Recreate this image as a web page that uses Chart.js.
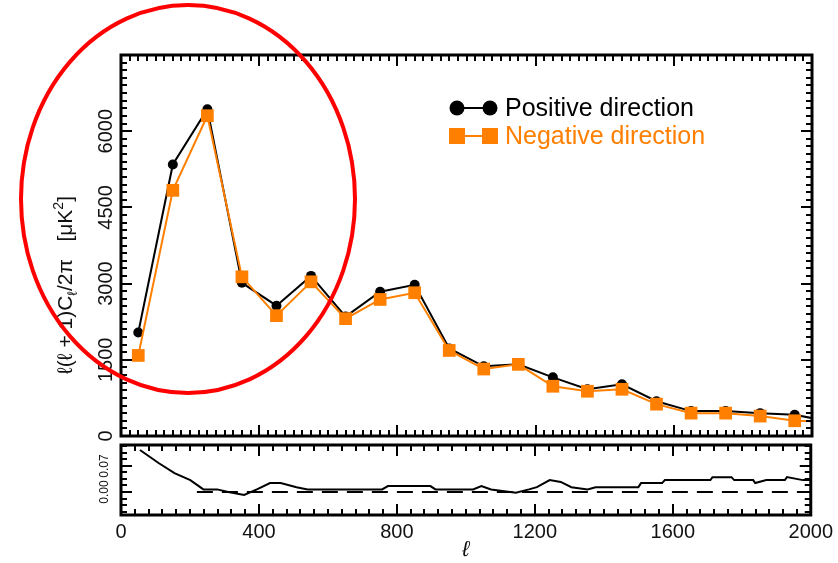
<!DOCTYPE html>
<html><head><meta charset="utf-8">
<script src="https://cdn.jsdelivr.net/npm/chart.js@4.4.1/dist/chart.umd.min.js"></script>
<style>
html,body{margin:0;padding:0;background:#fff;}
#wrap{position:relative;width:838px;height:563px;overflow:hidden;background:#fff;}
.box{position:absolute;left:0;}
</style></head><body>
<div id="wrap">
  <div class="box" style="top:0;width:838px;height:445px"><canvas id="c1" width="838" height="445"></canvas></div>
  <div class="box" style="top:440px;width:838px;height:123px"><canvas id="c2" width="838" height="123"></canvas></div>
</div>
<script>
// ---------- data ----------
const multipoleBins = [50,150,250,350,450,550,650,750,850,950,1050,1150,1250,1350,1450,1550,1650,1750,1850,1950,2050];
const positiveDirection = [2036,5345,6432,3015,2565,3152,2350,2839,2976,1723,1371,1410,1155,920,1018,685,490,490,450,417,287];
const negativeDirection = [1586,4836,6305,3133,2369,3035,2310,2688,2820,1684,1318,1410,979,881,920,627,450,450,392,300,276];

const ratioEll = [55,109,155,201,239,279,311,357,394,432,463,509,541,757,774,897,912,1021,1045,1073,1145,1183,1206,1243,1275,1306,1353,1376,1500,1508,1569,1577,1709,1715,1770,1778,1833,1839,1871,1925,1931,1977,2000];
const ratioValues = [0.113,0.078,0.051,0.032,0.007,0.007,0.000,-0.008,0.007,0.024,0.024,0.013,0.007,0.007,0.016,0.016,0.007,0.007,0.016,0.007,-0.002,0.007,0.013,0.032,0.027,0.013,0.007,0.013,0.013,0.024,0.024,0.032,0.032,0.040,0.040,0.032,0.032,0.024,0.032,0.032,0.040,0.032,0.032];
const zeroLineEll = [220, 2000];
const zeroLineValues = [0, 0];

const xTickLabels = [0, 400, 800, 1200, 1600, 2000];
const yTickLabelsMain = [0, 1500, 3000, 4500, 6000];
const yTickLabelsLower = [0, 0.07];

const FONT = '"Liberation Sans", Arial, Helvetica, sans-serif';
const ORANGE = '#ff8000';

function pts(xs, ys){ return xs.map((x,i)=>({x:x, y:ys[i]})); }

function drawRich(ctx, segs, cx, cy, rot){
  ctx.save();
  ctx.translate(cx, cy);
  ctx.rotate(rot);
  ctx.textAlign = 'left';
  ctx.textBaseline = 'alphabetic';
  let total = 0;
  const ws = segs.map(s => { ctx.font = s.font; const w = ctx.measureText(s.t).width; total += w; return w; });
  let x = -total/2;
  segs.forEach((s,i)=>{ ctx.font = s.font; ctx.fillStyle = '#111'; ctx.fillText(s.t, x, s.dy); x += ws[i]; });
  ctx.restore();
}

function framePlugin(cfg){
  return {
    id: 'frame_' + cfg.name,
    afterDraw(chart){
      const ctx = chart.ctx, a = chart.chartArea, xs = chart.scales.x, ys = chart.scales.y;
      ctx.save();
      ctx.strokeStyle = '#000';
      ctx.lineWidth = 2;
      ctx.beginPath();
      const nx = Math.round((xs.max - xs.min) / cfg.xMinor);
      for (let i = 0; i <= nx; i++){
        const v = xs.min + i * cfg.xMinor;
        const major = Math.abs(v / cfg.xMajor - Math.round(v / cfg.xMajor)) < 1e-6;
        const L = major ? cfg.majorLen : cfg.minorLen;
        const px = Math.round(xs.getPixelForValue(v));
        ctx.moveTo(px, a.bottom); ctx.lineTo(px, a.bottom - L);
        ctx.moveTo(px, a.top); ctx.lineTo(px, a.top + L);
      }
      const y0 = Math.ceil((ys.min - 1e-9) / cfg.yMinor), y1 = Math.floor((ys.max + 1e-9) / cfg.yMinor);
      for (let k = y0; k <= y1; k++){
        const v = k * cfg.yMinor;
        const major = Math.abs(v / cfg.yMajor - Math.round(v / cfg.yMajor)) < 1e-6;
        const L = major ? cfg.majorLen : cfg.minorLen;
        const py = Math.round(ys.getPixelForValue(v));
        ctx.moveTo(a.left, py); ctx.lineTo(a.left + L, py);
        ctx.moveTo(a.right, py); ctx.lineTo(a.right - L, py);
      }
      ctx.stroke();
      ctx.lineWidth = 3;
      ctx.strokeRect(a.left, a.top, a.right - a.left, a.bottom - a.top);
      // rotated y tick labels
      ctx.fillStyle = '#111';
      ctx.font = cfg.labelFont;
      ctx.textAlign = 'center';
      ctx.textBaseline = 'middle';
      cfg.yLabels.forEach(v => {
        const py = ys.getPixelForValue(v);
        ctx.save();
        ctx.translate(cfg.yLabelX, py);
        ctx.rotate(-Math.PI/2);
        ctx.fillText(cfg.fmt(v), 0, 0);
        ctx.restore();
      });
      ctx.restore();
      if (cfg.title) drawRich(ctx, cfg.title.segs, cfg.title.x, cfg.title.y, -Math.PI/2);
    }
  };
}

const legendPlugin = {
  id: 'insideLegend',
  afterDraw(chart){
    const ctx = chart.ctx;
    const x0 = 457, x1 = 490, tx = 505;
    const rows = [108, 136];
    chart.data.datasets.forEach((ds, i) => {
      const y = rows[i];
      ctx.save();
      ctx.strokeStyle = ds.borderColor; ctx.fillStyle = ds.backgroundColor; ctx.lineWidth = 2;
      ctx.beginPath(); ctx.moveTo(x0, y); ctx.lineTo(x1, y); ctx.stroke();
      [x0, x1].forEach(x => {
        if (ds.pointStyle === 'rect') { ctx.fillRect(x - 8, y - 8, 16, 16); }
        else { ctx.beginPath(); ctx.arc(x, y, 7.5, 0, Math.PI*2); ctx.fill(); }
      });
      ctx.font = '25px ' + FONT;
      ctx.fillStyle = ds.legendTextColor;
      ctx.textAlign = 'left'; ctx.textBaseline = 'middle';
      ctx.fillText(ds.label, tx, y + 1);
      ctx.restore();
    });
  }
};

const ellipsePlugin = {
  id: 'ellipseMark',
  afterDraw(chart){
    const ctx = chart.ctx;
    ctx.save();
    ctx.strokeStyle = '#ff0000';
    ctx.lineWidth = 4;
    ctx.beginPath();
    ctx.ellipse(188, 199, 167, 194, 0, 0, Math.PI*2);
    ctx.stroke();
    ctx.restore();
  }
};

const F20 = '20px ' + FONT, F21 = '21px ' + FONT, F14 = '14px ' + FONT;

new Chart(document.getElementById('c1'), {
  type: 'line',
  data: {
    datasets: [
      { label: 'Positive direction', data: pts(multipoleBins, positiveDirection), borderColor: '#000', backgroundColor: '#000',
        legendTextColor: '#000', borderWidth: 2, pointStyle: 'circle', pointRadius: 5, pointBorderWidth: 0, order: 1 },
      { label: 'Negative direction', data: pts(multipoleBins, negativeDirection), borderColor: ORANGE, backgroundColor: ORANGE,
        legendTextColor: ORANGE, borderWidth: 2, pointStyle: 'rect', pointRadius: 9, pointBorderWidth: 0, order: 0 }
    ]
  },
  options: {
    responsive: false, animation: false,
    layout: { padding: { left: 121, right: 26, top: 55, bottom: 7 } },
    scales: {
      x: { type: 'linear', min: 0, max: 2000, display: false },
      y: { type: 'linear', min: 0, max: 7500, display: false }
    },
    elements: { line: { tension: 0 } },
    plugins: { legend: { display: false }, tooltip: { enabled: false } }
  },
  plugins: [
    framePlugin({ name: 'main', xMinor: 25, xMajor: 400, yMinor: 150, yMajor: 1500, majorLen: 11, minorLen: 6,
      yLabels: yTickLabelsMain, yLabelX: 106, labelFont: F20, fmt: v => String(v),
      title: { x: 65, y: 285, segs: [
        { t: 'ℓ(ℓ + 1)C', font: F21, dy: 7 },
        { t: 'ℓ', font: F14, dy: 12 },
        { t: '/2π   [μK', font: F21, dy: 7 },
        { t: '2', font: F14, dy: -2 },
        { t: ']', font: F21, dy: 7 } ] } }),
    legendPlugin, ellipsePlugin
  ]
});

new Chart(document.getElementById('c2'), {
  type: 'line',
  data: {
    datasets: [
      { label: 'ΔC/C', data: pts(ratioEll, ratioValues), borderColor: '#000', borderWidth: 2, pointRadius: 0, order: 0 },
      { label: 'zero', data: pts(zeroLineEll, zeroLineValues), borderColor: '#000', borderWidth: 2, borderDash: [16, 9], pointRadius: 0, order: 1 }
    ]
  },
  options: {
    responsive: false, animation: false,
    layout: { padding: { left: 121, right: 26, top: 5, bottom: 0 } },
    scales: {
      x: { type: 'linear', min: 0, max: 2000, position: 'bottom',
        afterBuildTicks: s => { s.ticks = xTickLabels.map(v => ({ value: v })); },
        afterFit: s => { s.height = 48; },
        ticks: { font: { size: 20, family: FONT }, color: '#111', padding: 5, maxRotation: 0, autoSkip: false,
          callback: v => String(v) },
        grid: { display: false, drawTicks: false }, border: { display: false },
        title: { display: true, text: 'ℓ', color: '#111', font: { size: 22, family: FONT, style: 'italic' }, padding: { top: 0, bottom: 0 } } },
      y: { type: 'linear', min: -0.0619, max: 0.1265, display: false }
    },
    elements: { line: { tension: 0 } },
    plugins: { legend: { display: false }, tooltip: { enabled: false } }
  },
  plugins: [
    framePlugin({ name: 'lower', xMinor: 40, xMajor: 400, yMinor: 0.0175, yMajor: 0.07, majorLen: 11, minorLen: 6,
      yLabels: yTickLabelsLower, yLabelX: 105, labelFont: '12px ' + FONT, fmt: v => v.toFixed(2),
      title: { x: 62, y: 490, segs: [
        { t: 'ΔC', font: F20, dy: 7 },
        { t: 'ℓ', font: F14, dy: 12 },
        { t: '/C', font: F20, dy: 7 },
        { t: 'ℓ', font: F14, dy: 12 } ] } })
  ]
});
</script>
</body></html>
